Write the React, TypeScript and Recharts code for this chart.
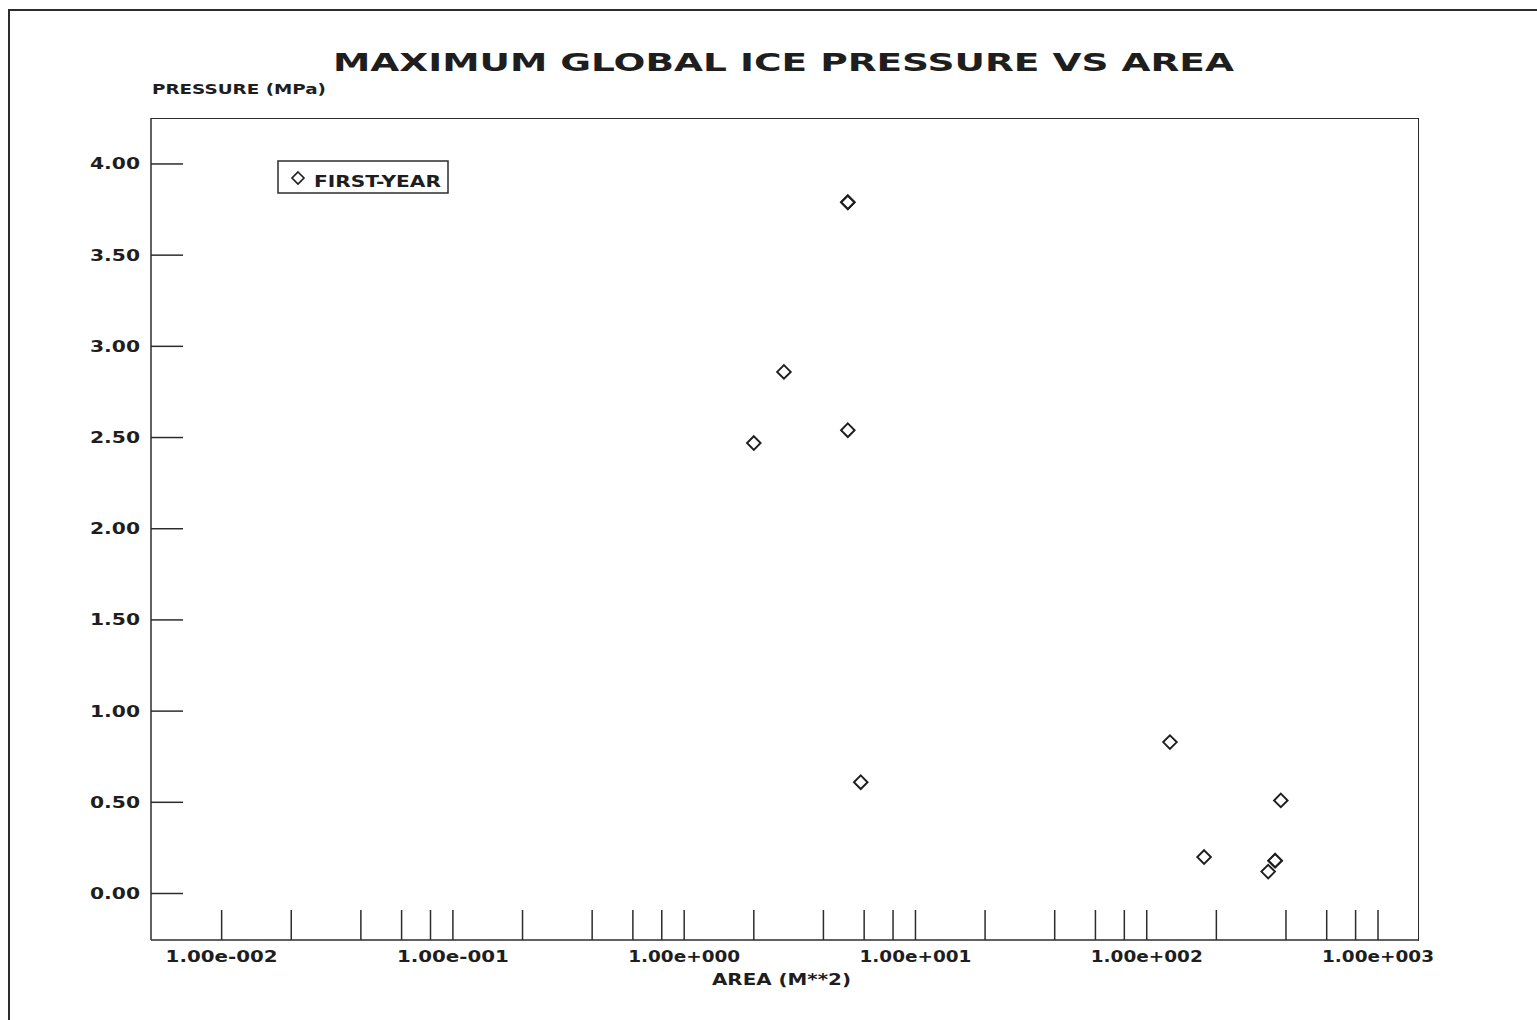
import { ScatterChart, Scatter, XAxis, YAxis, Legend } from "recharts"

// area (m^2) and max global pressure (MPa)
const areaM2 = [5.1, 5.1, 2.7, 5.1, 2.0, 5.8, 126, 380, 177, 359, 359, 335]
const pressureMPa = [3.79, 3.79, 2.86, 2.54, 2.47, 0.61, 0.83, 0.51, 0.2, 0.18, 0.18, 0.12]

const xTicks = [
  0.01, 0.02, 0.04, 0.06, 0.08,
  0.1, 0.2, 0.4, 0.6, 0.8,
  1, 2, 4, 6, 8,
  10, 20, 40, 60, 80,
  100, 200, 400, 600, 800,
  1000
]
const decades = [0.01, 0.1, 1, 10, 100, 1000]
const decadeLabels = ["1.00e-002", "1.00e-001", "1.00e+000", "1.00e+001", "1.00e+002", "1.00e+003"]
const yTicks = [0, 0.5, 1, 1.5, 2, 2.5, 3, 3.5, 4]
const yTickLabels = ["0.00", "0.50", "1.00", "1.50", "2.00", "2.50", "3.00", "3.50", "4.00"]

const data = areaM2.map((a, i) => ({ area: a, pressure: pressureMPa[i] }))

const INK = "#1e1e1e"
const LINE = "#2c2c2c"
const FONT = "'DejaVu Sans', sans-serif"

const Diamond = (props: any) => {
  const { cx, cy } = props
  if (cx == null || cy == null) return null
  const r = 6.8
  return (
    <polygon
      points={`${cx},${cy - r} ${cx + r},${cy} ${cx},${cy + r} ${cx - r},${cy}`}
      fill="none"
      stroke={INK}
      strokeWidth={1.9}
    />
  )
}

const XTick = (props: any) => {
  const { x, y, payload } = props
  const idx = decades.findIndex(d => Math.abs(d - payload.value) < d * 1e-6)
  return (
    <g>
      <line x1={x} x2={x} y1={y} y2={y - 30} stroke={LINE} strokeWidth={1.5} />
      {idx >= 0 && (
        <text
          x={x}
          y={y + 21.5}
          textAnchor="middle"
          fontFamily={FONT}
          fontWeight="bold"
          fontSize={15}
          fill={INK}
          textLength={112}
          lengthAdjust="spacingAndGlyphs"
        >
          {decadeLabels[idx]}
        </text>
      )}
    </g>
  )
}

const YTick = (props: any) => {
  const { x, y, payload } = props
  const idx = yTicks.indexOf(payload.value)
  return (
    <g>
      <line x1={x} x2={x + 32} y1={y} y2={y} stroke={LINE} strokeWidth={1.5} />
      <text
        x={x - 11}
        y={y + 5.5}
        textAnchor="end"
        fontFamily={FONT}
        fontWeight="bold"
        fontSize={15}
        fill={INK}
        textLength={50}
        lengthAdjust="spacingAndGlyphs"
      >
        {yTickLabels[idx]}
      </text>
    </g>
  )
}

const LegendBox = () => (
  <svg width={172} height={34} style={{ display: "block" }}>
    <rect x={1} y={1} width={170} height={32} fill="#fff" stroke={LINE} strokeWidth={1.5} />
    <polygon points="21,12 27,18 21,24 15,18" fill="none" stroke={INK} strokeWidth={1.6} />
    <text
      x={37}
      y={26.5}
      fontFamily={FONT}
      fontWeight="bold"
      fontSize={15}
      fill={INK}
      textLength={127}
      lengthAdjust="spacingAndGlyphs"
    >
      FIRST-YEAR
    </text>
  </svg>
)

export default function App() {
  return (
    <div style={{ position: "absolute", left: 0, top: 0, width: 1537, height: 1020, background: "#fff" }}>
      {/* outer page frame (left + top only, as in the scan) */}
      <div
        style={{
          position: "absolute",
          left: 8,
          top: 9,
          width: 1529,
          height: 1011,
          borderLeft: `2px solid ${LINE}`,
          borderTop: `2px solid ${LINE}`,
          boxSizing: "border-box"
        }}
      />
      {/* top + right edges of the plot box */}
      <div
        style={{
          position: "absolute",
          left: 151,
          top: 117.5,
          width: 1267.5,
          height: 823,
          borderTop: `1.5px solid ${LINE}`,
          borderRight: `1.5px solid ${LINE}`,
          boxSizing: "border-box"
        }}
      />
      <ScatterChart width={1537} height={1020} margin={{ top: 118, right: 119, bottom: 0, left: 0 }}>
        <XAxis
          dataKey="area"
          type="number"
          scale="log"
          domain={[0.00495, 1489]}
          allowDataOverflow
          ticks={xTicks}
          interval={0}
          tickSize={0}
          tickMargin={0}
          tickLine={false}
          tick={<XTick />}
          height={80}
          axisLine={{ stroke: LINE, strokeWidth: 1.5 }}
        />
        <YAxis
          dataKey="pressure"
          type="number"
          domain={[-0.255, 4.252]}
          allowDataOverflow
          ticks={yTicks}
          interval={0}
          tickSize={0}
          tickMargin={0}
          tickLine={false}
          tick={<YTick />}
          width={151}
          axisLine={{ stroke: LINE, strokeWidth: 1.5 }}
        />
        <Legend
          layout="vertical"
          align="center"
          verticalAlign="middle"
          wrapperStyle={{ left: 277, top: 160, width: 172, height: 34 }}
          content={<LegendBox />}
        />
        <Scatter name="FIRST-YEAR" data={data} shape={<Diamond />} isAnimationActive={false} />
      </ScatterChart>
      <svg
        width={1537}
        height={1020}
        style={{ position: "absolute", left: 0, top: 0, pointerEvents: "none" }}
      >
        <text
          x={333}
          y={71}
          fontFamily={FONT}
          fontWeight="bold"
          fontSize={24}
          fill={INK}
          textLength={901}
          lengthAdjust="spacingAndGlyphs"
        >
          MAXIMUM GLOBAL ICE PRESSURE VS AREA
        </text>
        <text
          x={152}
          y={94}
          fontFamily={FONT}
          fontWeight="bold"
          fontSize={14}
          fill={INK}
          textLength={174}
          lengthAdjust="spacingAndGlyphs"
        >
          PRESSURE (MPa)
        </text>
        <text
          x={712}
          y={984.5}
          fontFamily={FONT}
          fontWeight="bold"
          fontSize={15}
          fill={INK}
          textLength={139}
          lengthAdjust="spacingAndGlyphs"
        >
          AREA (M**2)
        </text>
      </svg>
    </div>
  )
}
